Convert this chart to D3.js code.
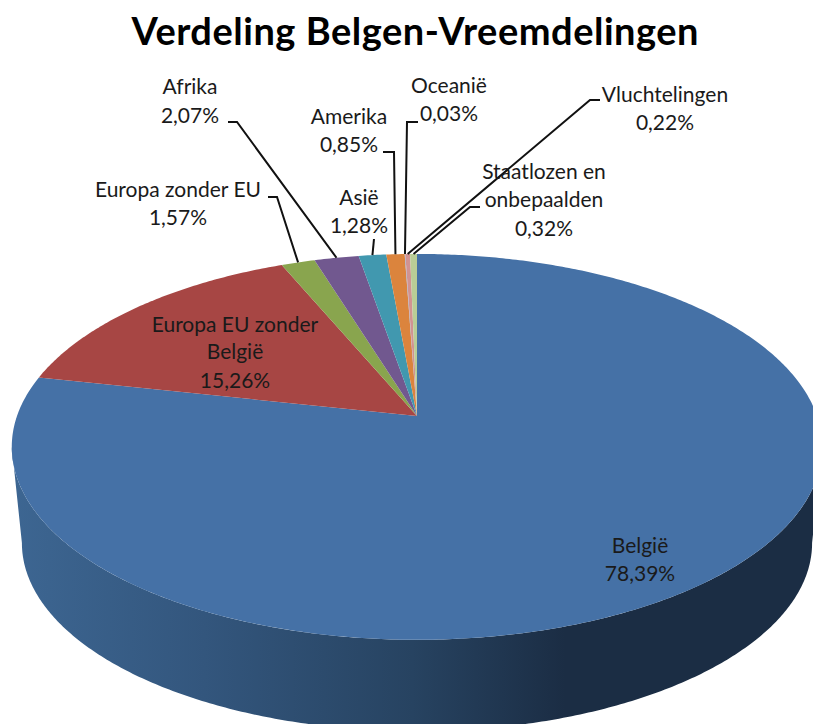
<!DOCTYPE html>
<html>
<head>
<meta charset="utf-8">
<script src="https://cdn.jsdelivr.net/npm/d3@7"></script>
<style>
	body { margin: 0; background: #fff; }
	svg { display: block; }
	text { font-family: Lato, "Open Sans", sans-serif; fill: #1a1a1a; }
</style>
</head>
<body>
<div id="chart"></div>
<script>
const title = 'Verdeling Belgen-Vreemdelingen';
const categories = ['België', 'Europa EU zonder België', 'Europa zonder EU', 'Afrika', 'Asië', 'Amerika', 'Oceanië', 'Vluchtelingen', 'Staatlozen en onbepaalden'];
const values = [78.39, 15.26, 1.57, 2.07, 1.28, 0.85, 0.03, 0.22, 0.32];
const colors = ['#4571a6', '#a74644', '#89a54e', '#71588f', '#4198af', '#db843d', '#93a9cf', '#d19392', '#b9cd96'];

const width = 813, height = 724;

// label placement: text lines, centre x, baselines, and the leader's elbow points
const labelLayout = [
	{ lines: ['België'], x: 640, y: [553, 581] },
	{ lines: ['Europa EU zonder', 'België'], x: 235, y: [332, 359, 388] },
	{ lines: ['Europa zonder EU'], x: 178, y: [197, 225], leader: [[268, 197], [277, 197]] },
	{ lines: ['Afrika'], x: 190, y: [94, 123], leader: [[228, 122], [237, 122]] },
	{ lines: ['Asië'], x: 359, y: [205, 233], leader: [[374, 239]] },
	{ lines: ['Amerika'], x: 349, y: [124, 152], leader: [[383, 152], [394, 152]] },
	{ lines: ['Oceanië'], x: 449, y: [93, 121], leader: [[418, 122], [407, 122]] },
	{ lines: ['Vluchtelingen'], x: 665, y: [102, 130], leader: [[600, 100], [590, 100]] },
	{ lines: ['Staatlozen en', 'onbepaalden'], x: 544, y: [179, 207, 236], leader: [[480, 207], [470, 207]] }
];

// perspective of the tilted disc
const cx = 417, cy = 416;
const radius = 400, flat = 188, k = 0.16;
const wallDrop = 97, wallScale = 0.975;
const edgeAngle = Math.acos(-k);

function project(angle, r, drop, scale) {
	let u = Math.sin(angle) * r, v = Math.cos(angle) * r;
	let s = scale / (1 + k * v);
	return [cx + radius * u * s, cy + drop - flat * v * s];
}

function arcAngles(a0, a1) {
	let n = Math.max(2, Math.ceil((a1 - a0) / 0.01));
	return d3.range(n + 1).map((i) => a0 + (a1 - a0) * i / n);
}

const svg = d3.select('#chart')
	.append('svg')
		.attr('width', width)
		.attr('height', height);

const defs = svg.append('defs');
const wallGradient = defs.append('linearGradient')
	.attr('id', 'wall')
	.attr('gradientUnits', 'userSpaceOnUse')
	.attr('x1', 12).attr('x2', 813).attr('y1', 0).attr('y2', 0);
[[0, '#3d6692'], [0.24, '#33567d'], [0.5, '#274361'], [0.69, '#1b2d44'], [1, '#1b2d44']].forEach((d) => {
	wallGradient.append('stop').attr('offset', d[0]).attr('stop-color', d[1]);
});

const color = d3.scaleOrdinal().domain(categories).range(colors);
const pie = d3.pie().sort(null)(values);
const line = d3.line();
const percent = d3.formatLocale({ decimal: ',', thousands: '.', grouping: [3], currency: ['', ''] }).format('.2f');

// side wall, only the part of each slice that faces the viewer
svg.append('g').selectAll('path')
	.data(pie.filter((d) => d.endAngle > edgeAngle && d.startAngle < 2 * Math.PI - edgeAngle))
	.enter().append('path')
		.attr('fill', 'url(#wall)')
		.attr('d', (d) => {
			let a = arcAngles(Math.max(d.startAngle, edgeAngle), Math.min(d.endAngle, 2 * Math.PI - edgeAngle));
			let top = a.map((t) => project(t, 1, 0, 1));
			let bottom = a.map((t) => project(t, 1, wallDrop, wallScale)).reverse();
			return line(top.concat(bottom)) + 'Z';
		});

// top surface
svg.append('g').selectAll('path')
	.data(pie)
	.enter().append('path')
		.attr('fill', (d, i) => color(categories[i]))
		.attr('d', (d) => {
			let rim = arcAngles(d.startAngle, d.endAngle).map((t) => project(t, 1, 0, 1));
			return line([[cx, cy]].concat(rim)) + 'Z';
		});

// leaders run from the rim at the slice's middle to the label
svg.append('g').selectAll('path')
	.data(pie.filter((d, i) => labelLayout[i].leader))
	.enter().append('path')
		.attr('fill', 'none')
		.attr('stroke', '#111')
		.attr('stroke-width', 2)
		.attr('d', (d) => line(labelLayout[d.index].leader.concat([project((d.startAngle + d.endAngle) / 2, 1, 0, 1)])));

const labels = svg.append('g').selectAll('text')
	.data(pie)
	.enter().append('text')
		.attr('text-anchor', 'middle')
		.attr('font-size', 21);

labels.selectAll('tspan')
	.data((d) => {
		let layout = labelLayout[d.index];
		return layout.lines.concat([percent(values[d.index]) + '%']).map((t, i) => ({ t: t, x: layout.x, y: layout.y[i] }));
	})
	.enter().append('tspan')
		.attr('x', (d) => d.x)
		.attr('y', (d) => d.y)
		.text((d) => d.t);

svg.append('text')
	.attr('x', 415)
	.attr('y', 45)
	.attr('text-anchor', 'middle')
	.attr('font-size', 38)
	.attr('font-weight', 700)
	.attr('textLength', 567)
	.attr('lengthAdjust', 'spacing')
	.style('fill', '#000')
	.text(title);
</script>
</body>
</html>
